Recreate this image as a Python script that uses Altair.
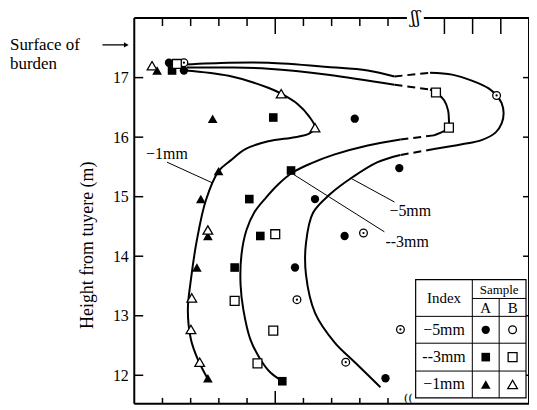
import altair as alt
import pandas as pd

FONT = "Liberation Serif"

# ---------------- data ----------------
# x: position in frame-tick units (axis unlabeled), y: height from tuyere (m)
a5_x = [1.23, 1.76, 7.82, 9.40, 6.41, 7.46, 5.70, 8.91]
a5_y = [17.25, 17.12, 16.31, 15.48, 14.96, 14.34, 13.81, 11.95]
b5_x = [1.76, 12.85, 8.13, 5.77, 7.50, 9.44]
b5_y = [17.25, 16.70, 14.39, 13.27, 12.22, 12.77]
a3_x = [1.34, 4.93, 5.56, 4.08, 4.47, 3.56, 5.25]
a3_y = [17.12, 16.33, 15.44, 14.96, 14.34, 13.81, 11.90]
b3_x = [1.51, 10.70, 11.16, 5.00, 3.56, 4.37, 4.93]
b3_y = [17.23, 16.75, 16.16, 14.37, 13.25, 12.20, 12.75]
a1_x = [0.81, 2.78, 2.99, 2.36, 2.61, 2.22, 2.61]
a1_y = [17.12, 16.31, 15.43, 14.96, 14.34, 13.81, 11.95]
b1_x = [0.63, 5.21, 6.41, 2.61, 2.04, 2.01, 2.32]
b1_y = [17.20, 16.73, 16.16, 14.44, 13.30, 12.77, 12.22]

# iso-size curves (traced); dashed spans are index pairs drawn dashed
c1_x = [1.80, 3.35, 4.75, 5.21, 5.81, 6.20, 6.41, 6.20, 5.70, 4.75, 3.94, 3.42, 2.99, 2.54, 2.22, 2.01, 1.90, 2.01, 2.25, 2.57]
c1_y = [17.12, 17.03, 16.83, 16.73, 16.55, 16.35, 16.16, 16.06, 16.00, 15.93, 15.80, 15.61, 15.43, 14.94, 14.27, 13.61, 13.10, 12.60, 12.27, 11.97]
c1_dashed = []
c3_x = [1.87, 3.35, 4.75, 6.87, 9.23, 10.49, 10.70, 10.99, 11.13, 11.16, 11.16, 10.99, 10.63, 9.44, 8.28, 7.11, 6.27, 5.63, 5.11, 4.68, 4.26, 3.98, 3.80, 3.77, 3.87, 4.12, 4.47, 4.82, 5.25]
c3_y = [17.17, 17.17, 17.15, 17.05, 16.88, 16.80, 16.75, 16.62, 16.45, 16.28, 16.16, 16.10, 16.03, 15.96, 15.86, 15.71, 15.56, 15.41, 15.21, 14.99, 14.74, 14.44, 14.02, 13.52, 13.10, 12.60, 12.27, 12.05, 11.90]
c3_dashed = [(4, 5), (12, 13)]
c5_x = [1.80, 3.35, 4.75, 6.87, 8.28, 9.23, 10.49, 11.27, 11.97, 12.57, 12.85, 13.03, 13.10, 13.03, 12.82, 12.32, 11.62, 10.63, 9.44, 8.63, 7.75, 6.94, 6.34, 6.09, 6.09, 6.41, 7.11, 7.82, 8.73]
c5_y = [17.22, 17.25, 17.25, 17.18, 17.12, 17.02, 17.08, 17.05, 16.95, 16.82, 16.70, 16.57, 16.40, 16.23, 16.08, 15.95, 15.88, 15.80, 15.70, 15.58, 15.33, 15.04, 14.73, 14.22, 13.69, 13.05, 12.55, 12.22, 11.80]
c5_dashed = [(5, 6), (17, 18)]

# annotations
lab_text = ["\u22121mm", "\u22125mm", "--3mm"]
lab_x = [0.42, 9.05, 8.91]
lab_y = [15.71, 14.76, 14.24]
lead_x = [1.16, 7.68, 5.63]
lead_y = [15.58, 15.31, 15.38]
lead_x2 = [2.78, 9.23, 8.87]
lead_y2 = [15.23, 14.91, 14.41]
surface_y = [17.55]
y_ticks = [12, 13, 14, 15, 16, 17]
x_ticks_short = [1, 2, 3, 4, 6, 7, 8, 9]
x_ticks_long = [5, 11, 12, 13]
break_x = [9.97]

# ---------------- chart ----------------
W, H = 397, 388
XS = alt.Scale(domain=[0, 14], nice=False, zero=False)
YS = alt.Scale(domain=[11.52, 18.0], nice=False, zero=False)
YAXIS = alt.Axis(values=y_ticks, title="Height from tuyere (m)", ticks=False, domain=False, grid=False,
                 labelFont=FONT, labelFontSize=16, labelColor="black", labelPadding=6,
                 titleFont=FONT, titleFontSize=18, titleFontWeight="normal", titleColor="black",
                 titleX=-42, titleY=228, titleAngle=270, titleBaseline="alphabetic", titleAlign="center")


def X(f):
    return alt.X(f, type="quantitative", scale=XS, axis=None)


def Y(f):
    return alt.Y(f, type="quantitative", scale=YS, axis=YAXIS)


def PX(f):
    return alt.X(f, type="quantitative", scale=None)


def PY(f):
    return alt.Y(f, type="quantitative", scale=None)


IDX = ["\u22125mm", "--3mm", "\u22121mm"]
SHAPES = {IDX[0]: ("circle", 70, 60), IDX[1]: ("square", 75, 80), IDX[2]: ("triangle-up", 95, 95)}

rows = []
for idx, smp, xs_, ys_ in [(IDX[0], "A", a5_x, a5_y), (IDX[0], "B", b5_x, b5_y),
                           (IDX[1], "A", a3_x, a3_y), (IDX[1], "B", b3_x, b3_y),
                           (IDX[2], "A", a1_x, a1_y), (IDX[2], "B", b1_x, b1_y)]:
    for xv, yv in zip(xs_, ys_):
        rows.append({"idx": idx, "smp": smp, "x": xv, "y": yv})
markers = pd.DataFrame(rows)


def sym_layers(df, xch, ych, dot=True):
    out = []
    for idx in IDX:
        shape, sa, sb = SHAPES[idx]
        for smp in ["A", "B"]:
            sub = df[(df["idx"] == idx) & (df["smp"] == smp)]
            if smp == "A":
                m = alt.Chart(sub).mark_point(shape=shape, filled=True, color="black", size=sa, opacity=1, strokeWidth=0)
            else:
                m = alt.Chart(sub).mark_point(shape=shape, filled=True, fill="white", stroke="black",
                                              strokeWidth=1.3, size=sb, opacity=1)
            out.append(m.encode(x=xch("x"), y=ych("y")))
            if dot and idx == IDX[0] and smp == "B":
                out.append(alt.Chart(sub).mark_point(shape="circle", filled=True, color="black", size=5,
                                                     opacity=1).encode(x=xch("x"), y=ych("y")))
    return out


# curves split into solid / dashed segments
crow = []
seg = 0
for name, cx, cy, dsh in [("c1", c1_x, c1_y, c1_dashed), ("c3", c3_x, c3_y, c3_dashed), ("c5", c5_x, c5_y, c5_dashed)]:
    bounds = []
    start = 0
    for a, b in dsh:
        bounds.append(("solid", start, a))
        bounds.append(("dash", a, b))
        start = b
    bounds.append(("solid", start, len(cx) - 1))
    for style, a, b in bounds:
        seg += 1
        for k in range(a, b + 1):
            crow.append({"seg": seg, "style": style, "o": k, "x": cx[k], "y": cy[k]})
curves = pd.DataFrame(crow)

solid = alt.Chart(curves[curves["style"] == "solid"]).mark_line(
    interpolate="catmull-rom", color="black", strokeWidth=2).encode(
    x=X("x"), y=Y("y"), detail="seg:N", order="o:Q")
dashed = alt.Chart(curves[curves["style"] == "dash"]).mark_line(
    color="black", strokeWidth=2, strokeDash=[8, 5]).encode(
    x=X("x"), y=Y("y"), detail="seg:N", order="o:Q")

leads = alt.Chart(pd.DataFrame({"x": lead_x, "y": lead_y, "x2": lead_x2, "y2": lead_y2})).mark_rule(
    color="black", strokeWidth=1).encode(x=X("x"), y=Y("y"), x2="x2", y2="y2")
labels = alt.Chart(pd.DataFrame({"x": lab_x, "y": lab_y, "t": lab_text})).mark_text(
    font=FONT, fontSize=16, align="left", baseline="middle", color="black").encode(x=X("x"), y=Y("y"), text="t")

# frame and inward ticks
ydf = pd.DataFrame({"v": y_ticks})
left_ticks = alt.Chart(ydf).mark_rule(color="black", strokeWidth=1.5).encode(
    y=Y("v"), x=alt.value(0), x2=alt.value(9))
right_ticks = alt.Chart(ydf).mark_rule(color="black", strokeWidth=1.5).encode(
    y=Y("v"), x=alt.value(W - 6), x2=alt.value(W))
sdf = pd.DataFrame({"v": x_ticks_short})
ldf = pd.DataFrame({"v": x_ticks_long})
top_s = alt.Chart(sdf).mark_rule(color="black", strokeWidth=1.5).encode(x=X("v"), y=alt.value(0), y2=alt.value(8))
top_l = alt.Chart(ldf).mark_rule(color="black", strokeWidth=1.5).encode(x=X("v"), y=alt.value(0), y2=alt.value(16))
bot_s = alt.Chart(sdf).mark_rule(color="black", strokeWidth=1.5).encode(x=X("v"), y=alt.value(H - 6), y2=alt.value(H))
bot_l = alt.Chart(ldf[ldf["v"] < 10]).mark_rule(color="black", strokeWidth=1.5).encode(
    x=X("v"), y=alt.value(H - 13), y2=alt.value(H))

frame_top = alt.Chart(pd.DataFrame({"x": [0, break_x[0] + 0.3], "x2": [break_x[0] - 0.3, 14]})).mark_rule(
    color="black", strokeWidth=2).encode(x=X("x"), x2="x2", y=alt.value(0))
frame_bot = alt.Chart(pd.DataFrame({"x": [0], "x2": [14]})).mark_rule(color="black", strokeWidth=2).encode(
    x=X("x"), x2="x2", y=alt.value(H))
frame_lr = alt.Chart(pd.DataFrame({"p": [0, W]})).mark_rule(color="black", strokeWidth=2).encode(
    x=PX("p"), y=alt.value(0), y2=alt.value(H))
brk_top = alt.Chart(pd.DataFrame({"x": break_x, "t": ["\u0283\u0283"]})).mark_text(
    font="DejaVu Serif", fontSize=17, color="black", baseline="middle").encode(x=X("x"), y=alt.value(0), text="t")
brk_bot = alt.Chart(pd.DataFrame({"x": [break_x[0] - 0.25], "t": ["(("]})).mark_text(
    font="DejaVu Serif", fontSize=12, color="black", baseline="bottom").encode(x=X("x"), y=alt.value(H + 1), text="t")

# surface of burden arrow
sdf2 = pd.DataFrame({"y": surface_y})
arrow = alt.Chart(sdf2).mark_rule(color="black", strokeWidth=1.3).encode(
    y=Y("y"), x=alt.value(-32), x2=alt.value(-8))
arrow_head = alt.Chart(sdf2).mark_point(shape="triangle-right", filled=True, color="black", size=30, opacity=1).encode(
    y=Y("y"), x=alt.value(-8))
surf1 = alt.Chart(sdf2).mark_text(font=FONT, fontSize=17, align="left", baseline="middle", color="black").encode(
    y=Y("y"), x=alt.value(-125), text=alt.value("Surface of"))
surf2 = alt.Chart(sdf2).mark_text(font=FONT, fontSize=17, align="left", baseline="middle", color="black", dy=19).encode(
    y=Y("y"), x=alt.value(-125), text=alt.value("burden"))

# legend table (pixel layout inside the plot)
L, R, T, B = 283, 394, 263, 382
C1, C2 = 340, 367
rows_y = [300, 327, 355]
box = alt.Chart(pd.DataFrame({"x": [L], "x2": [R], "y": [T], "y2": [B]})).mark_rect(
    fill="white", stroke="black", strokeWidth=1.2).encode(x=PX("x"), x2="x2", y=PY("y"), y2="y2")
hl = pd.DataFrame({"x": [C1] + [L] * 3, "x2": [R] * 4, "y": [282] + rows_y})
hlines = alt.Chart(hl).mark_rule(color="black", strokeWidth=1).encode(x=PX("x"), x2="x2", y=PY("y"))
vl = pd.DataFrame({"x": [C1, C2], "y": [T, 282], "y2": [B, B]})
vlines = alt.Chart(vl).mark_rule(color="black", strokeWidth=1).encode(x=PX("x"), y=PY("y"), y2="y2")
cx = [(C1 + C2) / 2, (C2 + R) / 2]
cy = [(rows_y[0] + rows_y[1]) / 2, (rows_y[1] + rows_y[2]) / 2, (rows_y[2] + B) / 2]
ltxt = pd.DataFrame({
    "x": [(L + C1) / 2, (C1 + R) / 2, cx[0], cx[1]] + [(L + C1) / 2] * 3,
    "y": [(T + rows_y[0]) / 2, (T + 282) / 2 + 1, (282 + rows_y[0]) / 2 + 1, (282 + rows_y[0]) / 2 + 1] + cy,
    "t": ["Index", "Sample", "A", "B"] + IDX,
    "fs": [15, 13, 15, 15, 16, 16, 16],
})
ltext = alt.Chart(ltxt).mark_text(font=FONT, color="black", baseline="middle", align="center").encode(
    x=PX("x"), y=PY("y"), text="t", size=alt.Size("fs:Q", scale=None))
lrows = []
for i, idx in enumerate(IDX):
    for j, smp in enumerate(["A", "B"]):
        lrows.append({"idx": idx, "smp": smp, "x": cx[j], "y": cy[i]})
lsyms = sym_layers(pd.DataFrame(lrows), PX, PY, dot=False)

layers = [solid, dashed, leads, labels] + sym_layers(markers, X, Y) + [
    left_ticks, right_ticks, top_s, top_l, bot_s, bot_l, frame_top, frame_bot, frame_lr, brk_top, brk_bot,
    arrow, arrow_head, surf1, surf2, box, hlines, vlines, ltext] + lsyms

chart = alt.layer(*layers).properties(
    width=W, height=H,
    autosize=alt.AutoSizeParams(type="none"),
    padding={"left": 127, "top": 9, "right": 0, "bottom": 0},
    background="white",
).configure_view(stroke=None)

chart.save("out.html", embed_options={"renderer": "svg", "actions": False})
